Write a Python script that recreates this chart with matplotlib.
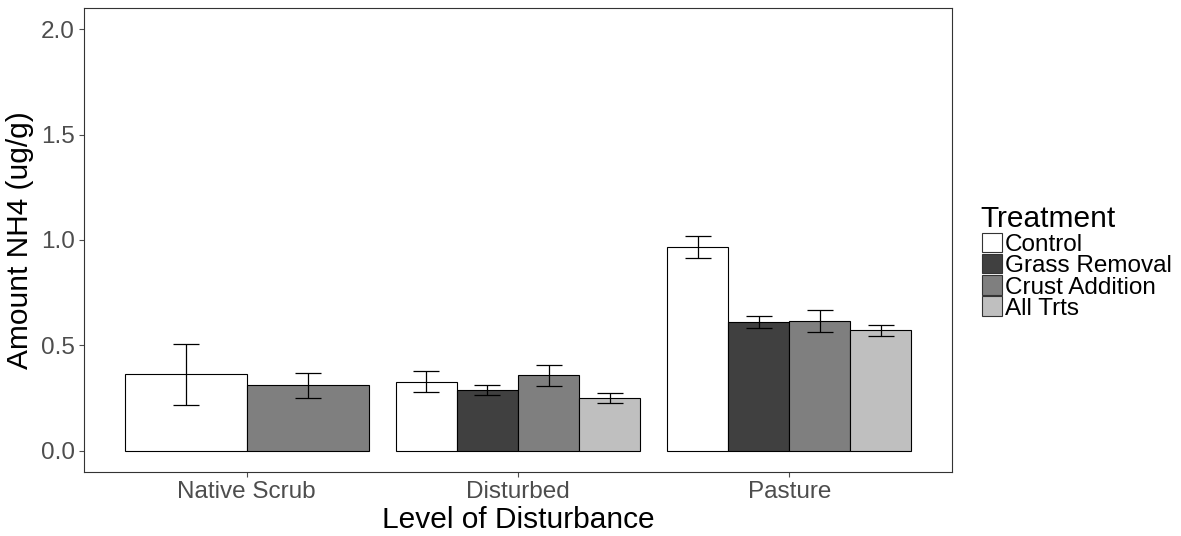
"""
NH4 by level of disturbance and treatment, grouped bars with error bars
"""
import numpy as np
import matplotlib.pyplot as plt
from matplotlib.patches import Rectangle

plt.rcParams['font.family'] = ['Liberation Sans', 'DejaVu Sans']

sites = ["Native Scrub", "Disturbed", "Pasture"]
treatments = ["Control", "Grass Removal", "Crust Addition", "All Trts"]
colors = ["#FFFFFF", "#404040", "#7F7F7F", "#BFBFBF"]

# mean per treatment, one value per site (None = not sampled)
control = [0.367, 0.329, 0.966]
grass = [None, 0.288, 0.610]
crust = [0.311, 0.358, 0.618]
alltrts = [None, 0.251, 0.571]

# error bar low / high
control_lo = [0.219, 0.279, 0.916]
control_hi = [0.506, 0.378, 1.021]
grass_lo = [None, 0.265, 0.585]
grass_hi = [None, 0.311, 0.638]
crust_lo = [0.251, 0.306, 0.566]
crust_hi = [0.370, 0.408, 0.667]
alltrts_lo = [None, 0.228, 0.544]
alltrts_hi = [None, 0.276, 0.597]

means = [control, grass, crust, alltrts]
lows = [control_lo, grass_lo, crust_lo, alltrts_lo]
highs = [control_hi, grass_hi, crust_hi, alltrts_hi]

W, H = 1181, 536
fig = plt.figure(figsize=(W/100, H/100), dpi=100)
ax = fig.add_axes([84/W, 64/H, (952-84)/W, (472-8)/H])

total = 0.9
for s in range(len(sites)):
    present = [t for t in range(len(treatments)) if means[t][s] is not None]
    w = total / len(present)
    for k, t in enumerate(present):
        xc = s + 1 - total/2 + w*(k + 0.5)
        ax.bar(xc, means[t][s], width=w, color=colors[t], edgecolor="black",
               linewidth=0.8, zorder=2)
        ax.errorbar(xc, means[t][s],
                    yerr=[[means[t][s] - lows[t][s]], [highs[t][s] - means[t][s]]],
                    fmt="none", ecolor="black", elinewidth=0.9, capsize=9.7,
                    capthick=0.9, zorder=3)

ax.set_xlim(0.4, 3.6)
ax.set_ylim(-0.1, 2.1)
ax.set_xticks([1, 2, 3])
ax.set_xticklabels(sites)
ax.set_yticks([0.0, 0.5, 1.0, 1.5, 2.0])
ax.set_yticklabels(["0.0", "0.5", "1.0", "1.5", "2.0"])
ax.tick_params(labelsize=17.5, colors="#4D4D4D", length=3.5, width=0.8,
               labelcolor="#4D4D4D", pad=3)
for sp in ax.spines.values():
    sp.set_color("#333333")
    sp.set_linewidth(0.8)

ax.set_xlabel("Level of Disturbance", fontsize=21.5, color="black", labelpad=2.5)
ax.set_ylabel("Amount NH4 (ug/g)", fontsize=21.5, color="black", labelpad=5)

# legend drawn in pixel positions on the figure
fig.text(980/W, 1 - 227/H, "Treatment", fontsize=21.5, ha="left", va="baseline")
for i, (lab, c) in enumerate(zip(treatments, colors)):
    top = 232.5 + 21.3*i
    fig.patches.append(Rectangle((982/W, 1 - (top + 19.5)/H), 20/W, 19.5/H,
                                 facecolor=c, edgecolor="#333333", linewidth=0.8,
                                 transform=fig.transFigure, figure=fig))
    fig.text(1005/W, 1 - (top + 10)/H, lab, fontsize=17.5, ha="left",
             va="center_baseline")

fig.savefig("out.png", dpi=100)
